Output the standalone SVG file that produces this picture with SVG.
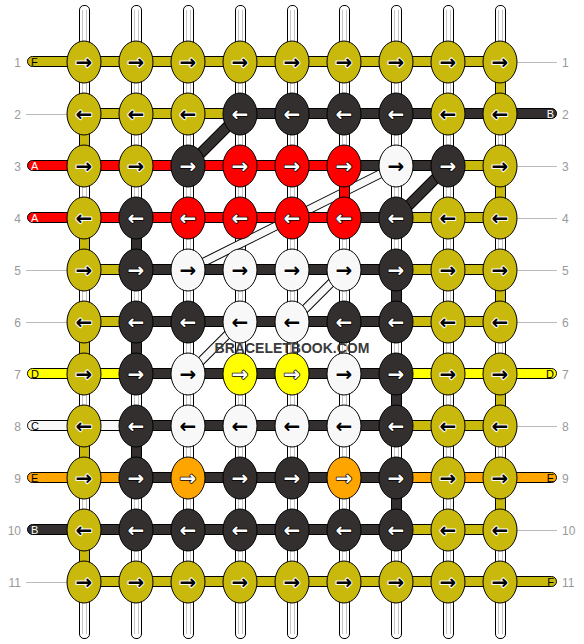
<svg xmlns="http://www.w3.org/2000/svg" width="584" height="644" viewBox="0 0 584 644">
<style>
rect,ellipse{stroke:#000;stroke-width:1}
.o{fill:#c9b90c}.k{fill:#332f2f}.r{fill:#ff0000}.w{fill:#f8f8f8}.y{fill:#ffff00}.n{fill:#ffa500}
.tube{fill:#fff}
.gl{stroke:#c4c4c4;stroke-width:1;fill:none}
.ln{stroke:#bbb;stroke-width:1}
.ab,.aw{font-family:"DejaVu Sans",sans-serif;font-weight:bold;font-size:20px;text-anchor:middle;paint-order:stroke;stroke-linejoin:round}
.ab{fill:#000;stroke:#fff;stroke-width:2}
.aw{fill:#fff;stroke:#000;stroke-width:1.5}
.num{font-family:"Liberation Sans",Arial,sans-serif;font-size:12px;fill:#999}
.lt{font-family:"Liberation Sans",Arial,sans-serif;font-size:11px}
.lb{fill:#000}.lw{fill:#fff}
.db{stroke:#000;stroke-width:11;stroke-linecap:butt}
.di{stroke:#332f2f;stroke-width:9}
.wb{stroke:#000;stroke-width:9}
.wi{stroke:#f8f8f8;stroke-width:7}
.wm{font-family:"Liberation Sans",Arial,sans-serif;font-weight:bold;font-size:14px;fill:#3a3a3a;text-anchor:middle}
</style>
<g id="connectors">
<g id="tubes">
<rect class="tube" x="79.5" y="5.5" width="10" height="633" rx="4.5"/>
<rect class="tube" x="131.5" y="5.5" width="10" height="633" rx="4.5"/>
<rect class="tube" x="183.5" y="5.5" width="10" height="633" rx="4.5"/>
<rect class="tube" x="235.5" y="5.5" width="10" height="633" rx="4.5"/>
<rect class="tube" x="287.5" y="5.5" width="10" height="633" rx="4.5"/>
<rect class="tube" x="339.5" y="5.5" width="10" height="633" rx="4.5"/>
<rect class="tube" x="391.5" y="5.5" width="10" height="633" rx="4.5"/>
<rect class="tube" x="443.5" y="5.5" width="10" height="633" rx="4.5"/>
<rect class="tube" x="495.5" y="5.5" width="10" height="633" rx="4.5"/>
<path class="gl" d="M82.5 10V634M86.5 10V634M134.5 10V634M138.5 10V634M186.5 10V634M190.5 10V634M238.5 10V634M242.5 10V634M290.5 10V634M294.5 10V634M342.5 10V634M346.5 10V634M394.5 10V634M398.5 10V634M446.5 10V634M450.5 10V634M498.5 10V634M502.5 10V634"/>
</g>
<g id="diagonals">
<line class="db" x1="240" y1="114" x2="188" y2="166"/><line class="di" x1="240" y1="114" x2="188" y2="166"/>
<line class="db" x1="448" y1="166" x2="396" y2="218"/><line class="di" x1="448" y1="166" x2="396" y2="218"/>
<line class="wb" x1="396" y1="166" x2="188" y2="270"/><line class="wi" x1="396" y1="166" x2="188" y2="270"/>
<line class="wb" x1="344" y1="270" x2="292" y2="322"/><line class="wi" x1="344" y1="270" x2="292" y2="322"/>
<line class="wb" x1="240" y1="322" x2="188" y2="374"/><line class="wi" x1="240" y1="322" x2="188" y2="374"/>
</g>
<g id="verticals">
<rect class="o" x="79.5" y="114" width="10" height="52"/>
<rect class="o" x="79.5" y="218" width="10" height="52"/>
<rect class="o" x="79.5" y="322" width="10" height="52"/>
<rect class="o" x="79.5" y="426" width="10" height="52"/>
<rect class="o" x="79.5" y="530" width="10" height="52"/>
<rect class="o" x="495.5" y="62" width="10" height="52"/>
<rect class="o" x="495.5" y="166" width="10" height="52"/>
<rect class="o" x="495.5" y="270" width="10" height="52"/>
<rect class="o" x="495.5" y="374" width="10" height="52"/>
<rect class="o" x="495.5" y="478" width="10" height="52"/>
<rect class="k" x="131.5" y="218" width="10" height="52"/>
<rect class="k" x="131.5" y="322" width="10" height="52"/>
<rect class="k" x="131.5" y="426" width="10" height="52"/>
<rect class="k" x="391.5" y="270" width="10" height="52"/>
<rect class="k" x="391.5" y="374" width="10" height="52"/>
<rect class="k" x="391.5" y="478" width="10" height="52"/>
<rect class="r" x="339.5" y="166" width="10" height="52"/>
</g>
<g id="rows">
<rect class="o" x="27.5" y="56.5" width="472.5" height="10" rx="5"/>
<rect class="o" x="84" y="108.5" width="156" height="10"/>
<rect class="k" x="240" y="108.5" width="316.5" height="10" rx="5"/>
<rect class="r" x="27.5" y="160.5" width="316.5" height="10" rx="5"/>
<rect class="k" x="344" y="160.5" width="104" height="10"/>
<rect class="o" x="448" y="160.5" width="52" height="10"/>
<rect class="r" x="27.5" y="212.5" width="316.5" height="10" rx="5"/>
<rect class="k" x="344" y="212.5" width="52" height="10"/>
<rect class="o" x="396" y="212.5" width="104" height="10"/>
<rect class="o" x="84" y="264.5" width="52" height="10"/>
<rect class="k" x="136" y="264.5" width="260" height="10"/>
<rect class="o" x="396" y="264.5" width="104" height="10"/>
<rect class="o" x="84" y="316.5" width="52" height="10"/>
<rect class="k" x="136" y="316.5" width="260" height="10"/>
<rect class="o" x="396" y="316.5" width="104" height="10"/>
<rect class="y" x="27.5" y="368.5" width="108.5" height="10" rx="5"/>
<rect class="k" x="136" y="368.5" width="260" height="10"/>
<rect class="y" x="396" y="368.5" width="160.5" height="10" rx="5"/>
<rect class="w" x="27.5" y="420.5" width="108.5" height="10" rx="5"/>
<rect class="k" x="136" y="420.5" width="260" height="10"/>
<rect class="o" x="396" y="420.5" width="104" height="10"/>
<rect class="n" x="27.5" y="472.5" width="108.5" height="10" rx="5"/>
<rect class="k" x="136" y="472.5" width="260" height="10"/>
<rect class="n" x="396" y="472.5" width="160.5" height="10" rx="5"/>
<rect class="k" x="27.5" y="524.5" width="368.5" height="10" rx="5"/>
<rect class="o" x="396" y="524.5" width="104" height="10"/>
<rect class="o" x="84" y="576.5" width="472.5" height="10" rx="5"/>
</g>
<g id="leaders">
<path class="ln" d="M26 114.5H67M26 270.5H67M26 322.5H67M26 582.5H67M517 62.5H557M517 166.5H557M517 218.5H557M517 270.5H557M517 322.5H557M517 426.5H557M517 530.5H557"/>
</g>
</g>
<g id="knots">
<g id="k1-1"><ellipse class="o" cx="84" cy="62" rx="17" ry="21"/><text class="ab" x="84" y="69">→</text></g>
<g id="k1-2"><ellipse class="o" cx="136" cy="62" rx="17" ry="21"/><text class="ab" x="136" y="69">→</text></g>
<g id="k1-3"><ellipse class="o" cx="188" cy="62" rx="17" ry="21"/><text class="ab" x="188" y="69">→</text></g>
<g id="k1-4"><ellipse class="o" cx="240" cy="62" rx="17" ry="21"/><text class="ab" x="240" y="69">→</text></g>
<g id="k1-5"><ellipse class="o" cx="292" cy="62" rx="17" ry="21"/><text class="ab" x="292" y="69">→</text></g>
<g id="k1-6"><ellipse class="o" cx="344" cy="62" rx="17" ry="21"/><text class="ab" x="344" y="69">→</text></g>
<g id="k1-7"><ellipse class="o" cx="396" cy="62" rx="17" ry="21"/><text class="ab" x="396" y="69">→</text></g>
<g id="k1-8"><ellipse class="o" cx="448" cy="62" rx="17" ry="21"/><text class="ab" x="448" y="69">→</text></g>
<g id="k1-9"><ellipse class="o" cx="500" cy="62" rx="17" ry="21"/><text class="ab" x="500" y="69">→</text></g>

<g id="k2-1"><ellipse class="o" cx="84" cy="114" rx="17" ry="21"/><text class="ab" x="84" y="121">←</text></g>
<g id="k2-2"><ellipse class="o" cx="136" cy="114" rx="17" ry="21"/><text class="ab" x="136" y="121">←</text></g>
<g id="k2-3"><ellipse class="o" cx="188" cy="114" rx="17" ry="21"/><text class="ab" x="188" y="121">←</text></g>
<g id="k2-4"><ellipse class="k" cx="240" cy="114" rx="17" ry="21"/><text class="aw" x="240" y="121">←</text></g>
<g id="k2-5"><ellipse class="k" cx="292" cy="114" rx="17" ry="21"/><text class="aw" x="292" y="121">←</text></g>
<g id="k2-6"><ellipse class="k" cx="344" cy="114" rx="17" ry="21"/><text class="aw" x="344" y="121">←</text></g>
<g id="k2-7"><ellipse class="k" cx="396" cy="114" rx="17" ry="21"/><text class="aw" x="396" y="121">←</text></g>
<g id="k2-8"><ellipse class="o" cx="448" cy="114" rx="17" ry="21"/><text class="ab" x="448" y="121">←</text></g>
<g id="k2-9"><ellipse class="o" cx="500" cy="114" rx="17" ry="21"/><text class="ab" x="500" y="121">←</text></g>

<g id="k3-1"><ellipse class="o" cx="84" cy="166" rx="17" ry="21"/><text class="ab" x="84" y="173">→</text></g>
<g id="k3-2"><ellipse class="o" cx="136" cy="166" rx="17" ry="21"/><text class="ab" x="136" y="173">→</text></g>
<g id="k3-3"><ellipse class="k" cx="188" cy="166" rx="17" ry="21"/><text class="aw" x="188" y="173">→</text></g>
<g id="k3-4"><ellipse class="r" cx="240" cy="166" rx="17" ry="21"/><text class="aw" x="240" y="173">→</text></g>
<g id="k3-5"><ellipse class="r" cx="292" cy="166" rx="17" ry="21"/><text class="aw" x="292" y="173">→</text></g>
<g id="k3-6"><ellipse class="r" cx="344" cy="166" rx="17" ry="21"/><text class="aw" x="344" y="173">→</text></g>
<g id="k3-7"><ellipse class="w" cx="396" cy="166" rx="17" ry="21"/><text class="ab" x="396" y="173">→</text></g>
<g id="k3-8"><ellipse class="k" cx="448" cy="166" rx="17" ry="21"/><text class="aw" x="448" y="173">→</text></g>
<g id="k3-9"><ellipse class="o" cx="500" cy="166" rx="17" ry="21"/><text class="ab" x="500" y="173">→</text></g>

<g id="k4-1"><ellipse class="o" cx="84" cy="218" rx="17" ry="21"/><text class="ab" x="84" y="225">←</text></g>
<g id="k4-2"><ellipse class="k" cx="136" cy="218" rx="17" ry="21"/><text class="aw" x="136" y="225">←</text></g>
<g id="k4-3"><ellipse class="r" cx="188" cy="218" rx="17" ry="21"/><text class="aw" x="188" y="225">←</text></g>
<g id="k4-4"><ellipse class="r" cx="240" cy="218" rx="17" ry="21"/><text class="aw" x="240" y="225">←</text></g>
<g id="k4-5"><ellipse class="r" cx="292" cy="218" rx="17" ry="21"/><text class="aw" x="292" y="225">←</text></g>
<g id="k4-6"><ellipse class="r" cx="344" cy="218" rx="17" ry="21"/><text class="aw" x="344" y="225">←</text></g>
<g id="k4-7"><ellipse class="k" cx="396" cy="218" rx="17" ry="21"/><text class="aw" x="396" y="225">←</text></g>
<g id="k4-8"><ellipse class="o" cx="448" cy="218" rx="17" ry="21"/><text class="ab" x="448" y="225">←</text></g>
<g id="k4-9"><ellipse class="o" cx="500" cy="218" rx="17" ry="21"/><text class="ab" x="500" y="225">←</text></g>

<g id="k5-1"><ellipse class="o" cx="84" cy="270" rx="17" ry="21"/><text class="ab" x="84" y="277">→</text></g>
<g id="k5-2"><ellipse class="k" cx="136" cy="270" rx="17" ry="21"/><text class="aw" x="136" y="277">→</text></g>
<g id="k5-3"><ellipse class="w" cx="188" cy="270" rx="17" ry="21"/><text class="ab" x="188" y="277">→</text></g>
<g id="k5-4"><ellipse class="w" cx="240" cy="270" rx="17" ry="21"/><text class="ab" x="240" y="277">→</text></g>
<g id="k5-5"><ellipse class="w" cx="292" cy="270" rx="17" ry="21"/><text class="ab" x="292" y="277">→</text></g>
<g id="k5-6"><ellipse class="w" cx="344" cy="270" rx="17" ry="21"/><text class="ab" x="344" y="277">→</text></g>
<g id="k5-7"><ellipse class="k" cx="396" cy="270" rx="17" ry="21"/><text class="aw" x="396" y="277">→</text></g>
<g id="k5-8"><ellipse class="o" cx="448" cy="270" rx="17" ry="21"/><text class="ab" x="448" y="277">→</text></g>
<g id="k5-9"><ellipse class="o" cx="500" cy="270" rx="17" ry="21"/><text class="ab" x="500" y="277">→</text></g>

<g id="k6-1"><ellipse class="o" cx="84" cy="322" rx="17" ry="21"/><text class="ab" x="84" y="329">←</text></g>
<g id="k6-2"><ellipse class="k" cx="136" cy="322" rx="17" ry="21"/><text class="aw" x="136" y="329">←</text></g>
<g id="k6-3"><ellipse class="k" cx="188" cy="322" rx="17" ry="21"/><text class="aw" x="188" y="329">←</text></g>
<g id="k6-4"><ellipse class="w" cx="240" cy="322" rx="17" ry="21"/><text class="ab" x="240" y="329">←</text></g>
<g id="k6-5"><ellipse class="w" cx="292" cy="322" rx="17" ry="21"/><text class="ab" x="292" y="329">←</text></g>
<g id="k6-6"><ellipse class="k" cx="344" cy="322" rx="17" ry="21"/><text class="aw" x="344" y="329">←</text></g>
<g id="k6-7"><ellipse class="k" cx="396" cy="322" rx="17" ry="21"/><text class="aw" x="396" y="329">←</text></g>
<g id="k6-8"><ellipse class="o" cx="448" cy="322" rx="17" ry="21"/><text class="ab" x="448" y="329">←</text></g>
<g id="k6-9"><ellipse class="o" cx="500" cy="322" rx="17" ry="21"/><text class="ab" x="500" y="329">←</text></g>

<g id="k7-1"><ellipse class="o" cx="84" cy="374" rx="17" ry="21"/><text class="ab" x="84" y="381">→</text></g>
<g id="k7-2"><ellipse class="k" cx="136" cy="374" rx="17" ry="21"/><text class="aw" x="136" y="381">→</text></g>
<g id="k7-3"><ellipse class="w" cx="188" cy="374" rx="17" ry="21"/><text class="ab" x="188" y="381">→</text></g>
<g id="k7-4"><ellipse class="y" cx="240" cy="374" rx="17" ry="21"/><text class="aw" x="240" y="381">→</text></g>
<g id="k7-5"><ellipse class="y" cx="292" cy="374" rx="17" ry="21"/><text class="aw" x="292" y="381">→</text></g>
<g id="k7-6"><ellipse class="w" cx="344" cy="374" rx="17" ry="21"/><text class="ab" x="344" y="381">→</text></g>
<g id="k7-7"><ellipse class="k" cx="396" cy="374" rx="17" ry="21"/><text class="aw" x="396" y="381">→</text></g>
<g id="k7-8"><ellipse class="o" cx="448" cy="374" rx="17" ry="21"/><text class="ab" x="448" y="381">→</text></g>
<g id="k7-9"><ellipse class="o" cx="500" cy="374" rx="17" ry="21"/><text class="ab" x="500" y="381">→</text></g>

<g id="k8-1"><ellipse class="o" cx="84" cy="426" rx="17" ry="21"/><text class="ab" x="84" y="433">←</text></g>
<g id="k8-2"><ellipse class="k" cx="136" cy="426" rx="17" ry="21"/><text class="aw" x="136" y="433">←</text></g>
<g id="k8-3"><ellipse class="w" cx="188" cy="426" rx="17" ry="21"/><text class="ab" x="188" y="433">←</text></g>
<g id="k8-4"><ellipse class="w" cx="240" cy="426" rx="17" ry="21"/><text class="ab" x="240" y="433">←</text></g>
<g id="k8-5"><ellipse class="w" cx="292" cy="426" rx="17" ry="21"/><text class="ab" x="292" y="433">←</text></g>
<g id="k8-6"><ellipse class="w" cx="344" cy="426" rx="17" ry="21"/><text class="ab" x="344" y="433">←</text></g>
<g id="k8-7"><ellipse class="k" cx="396" cy="426" rx="17" ry="21"/><text class="aw" x="396" y="433">←</text></g>
<g id="k8-8"><ellipse class="o" cx="448" cy="426" rx="17" ry="21"/><text class="ab" x="448" y="433">←</text></g>
<g id="k8-9"><ellipse class="o" cx="500" cy="426" rx="17" ry="21"/><text class="ab" x="500" y="433">←</text></g>

<g id="k9-1"><ellipse class="o" cx="84" cy="478" rx="17" ry="21"/><text class="ab" x="84" y="485">→</text></g>
<g id="k9-2"><ellipse class="k" cx="136" cy="478" rx="17" ry="21"/><text class="aw" x="136" y="485">→</text></g>
<g id="k9-3"><ellipse class="n" cx="188" cy="478" rx="17" ry="21"/><text class="aw" x="188" y="485">→</text></g>
<g id="k9-4"><ellipse class="k" cx="240" cy="478" rx="17" ry="21"/><text class="aw" x="240" y="485">→</text></g>
<g id="k9-5"><ellipse class="k" cx="292" cy="478" rx="17" ry="21"/><text class="aw" x="292" y="485">→</text></g>
<g id="k9-6"><ellipse class="n" cx="344" cy="478" rx="17" ry="21"/><text class="aw" x="344" y="485">→</text></g>
<g id="k9-7"><ellipse class="k" cx="396" cy="478" rx="17" ry="21"/><text class="aw" x="396" y="485">→</text></g>
<g id="k9-8"><ellipse class="o" cx="448" cy="478" rx="17" ry="21"/><text class="ab" x="448" y="485">→</text></g>
<g id="k9-9"><ellipse class="o" cx="500" cy="478" rx="17" ry="21"/><text class="ab" x="500" y="485">→</text></g>

<g id="k10-1"><ellipse class="o" cx="84" cy="530" rx="17" ry="21"/><text class="ab" x="84" y="537">←</text></g>
<g id="k10-2"><ellipse class="k" cx="136" cy="530" rx="17" ry="21"/><text class="aw" x="136" y="537">←</text></g>
<g id="k10-3"><ellipse class="k" cx="188" cy="530" rx="17" ry="21"/><text class="aw" x="188" y="537">←</text></g>
<g id="k10-4"><ellipse class="k" cx="240" cy="530" rx="17" ry="21"/><text class="aw" x="240" y="537">←</text></g>
<g id="k10-5"><ellipse class="k" cx="292" cy="530" rx="17" ry="21"/><text class="aw" x="292" y="537">←</text></g>
<g id="k10-6"><ellipse class="k" cx="344" cy="530" rx="17" ry="21"/><text class="aw" x="344" y="537">←</text></g>
<g id="k10-7"><ellipse class="k" cx="396" cy="530" rx="17" ry="21"/><text class="aw" x="396" y="537">←</text></g>
<g id="k10-8"><ellipse class="o" cx="448" cy="530" rx="17" ry="21"/><text class="ab" x="448" y="537">←</text></g>
<g id="k10-9"><ellipse class="o" cx="500" cy="530" rx="17" ry="21"/><text class="ab" x="500" y="537">←</text></g>

<g id="k11-1"><ellipse class="o" cx="84" cy="582" rx="17" ry="21"/><text class="ab" x="84" y="589">→</text></g>
<g id="k11-2"><ellipse class="o" cx="136" cy="582" rx="17" ry="21"/><text class="ab" x="136" y="589">→</text></g>
<g id="k11-3"><ellipse class="o" cx="188" cy="582" rx="17" ry="21"/><text class="ab" x="188" y="589">→</text></g>
<g id="k11-4"><ellipse class="o" cx="240" cy="582" rx="17" ry="21"/><text class="ab" x="240" y="589">→</text></g>
<g id="k11-5"><ellipse class="o" cx="292" cy="582" rx="17" ry="21"/><text class="ab" x="292" y="589">→</text></g>
<g id="k11-6"><ellipse class="o" cx="344" cy="582" rx="17" ry="21"/><text class="ab" x="344" y="589">→</text></g>
<g id="k11-7"><ellipse class="o" cx="396" cy="582" rx="17" ry="21"/><text class="ab" x="396" y="589">→</text></g>
<g id="k11-8"><ellipse class="o" cx="448" cy="582" rx="17" ry="21"/><text class="ab" x="448" y="589">→</text></g>
<g id="k11-9"><ellipse class="o" cx="500" cy="582" rx="17" ry="21"/><text class="ab" x="500" y="589">→</text></g>
</g>
<g id="strand-labels">
<text class="lt lb" x="31" y="66">F</text>
<text class="lt lw" x="31" y="170">A</text>
<text class="lt lw" x="31" y="222">A</text>
<text class="lt lb" x="31" y="378">D</text>
<text class="lt lb" x="31" y="430">C</text>
<text class="lt lb" x="31" y="482">E</text>
<text class="lt lw" x="31" y="534">B</text>
<text class="lt lw" x="554" y="118" text-anchor="end">B</text>
<text class="lt lb" x="554" y="378" text-anchor="end">D</text>
<text class="lt lb" x="554" y="482" text-anchor="end">E</text>
<text class="lt lb" x="554" y="586" text-anchor="end">F</text>
</g>
<g id="row-numbers">
<g class="num" text-anchor="end">
<text x="21" y="66.5">1</text><text x="21" y="118.5">2</text><text x="21" y="170.5">3</text><text x="21" y="222.5">4</text><text x="21" y="274.5">5</text><text x="21" y="326.5">6</text><text x="21" y="378.5">7</text><text x="21" y="430.5">8</text><text x="21" y="482.5">9</text><text x="21" y="534.5">10</text><text x="21" y="586.5">11</text>
</g>
<g class="num">
<text x="562" y="66.5">1</text><text x="562" y="118.5">2</text><text x="562" y="170.5">3</text><text x="562" y="222.5">4</text><text x="562" y="274.5">5</text><text x="562" y="326.5">6</text><text x="562" y="378.5">7</text><text x="562" y="430.5">8</text><text x="562" y="482.5">9</text><text x="562" y="534.5">10</text><text x="562" y="586.5">11</text>
</g>
</g>
<text class="wm" x="292" y="353">BRACELETBOOK.COM</text>
</svg>
